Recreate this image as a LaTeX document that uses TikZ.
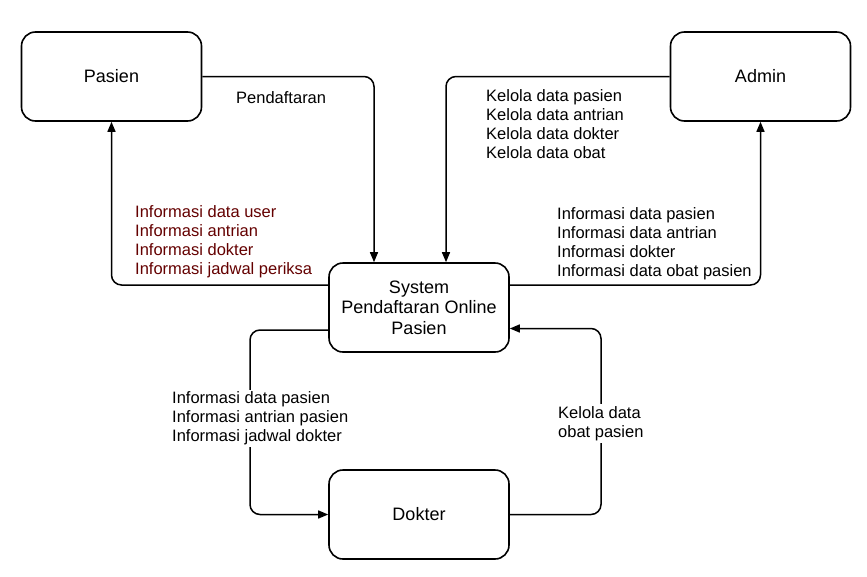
\documentclass[tikz,border=0pt]{standalone}
\usepackage{fontspec}
\setmainfont{Liberation Sans}
\usetikzlibrary{arrows.meta,calc}
\definecolor{lblred}{RGB}{100,0,0}
\begin{document}
\begin{tikzpicture}[x=1pt,y=-1pt,
  entity/.style={draw, line width=1.6pt, rounded corners=14pt, minimum width=180pt, minimum height=89pt,
     align=center, font=\fontsize{18}{20.5}\selectfont, inner sep=0pt},
  flow/.style={draw, line width=1.5pt, rounded corners=10pt, -{Triangle[length=10pt,width=8pt]}},
  lbl/.style={align=left, inner sep=0pt, anchor=west, font=\fontsize{16.5}{19}\selectfont},
  lblw/.style={lbl, fill=white, inner ysep=2pt}
]
\useasboundingbox (0,0) rectangle (867,576);
\node[entity] (pasien) at (111.5,76.5) {Pasien};
\node[entity] (admin) at (760.5,76.5) {Admin};
\node[entity] (sys) at (419,307.5) {System\\Pendaftaran Online\\Pasien};
\node[entity] (dokter) at (419,514.5) {Dokter};
\coordinate (bl) at (250,420);
\coordinate (br) at (601,420);

\draw[flow] (pasien.east) -| ([xshift=-45pt]sys.north);
\draw[flow] (admin.west) -| ([xshift=27pt]sys.north);
\draw[flow] ([yshift=22.5pt]sys.west) -| (pasien.south);
\draw[flow] ([yshift=22.5pt]sys.east) -| (admin.south);
\draw[flow] ([yshift=-22.5pt]sys.west) -| (bl) |- (dokter.west);
\draw[flow] (dokter.east) -| (br) |- ([yshift=-21pt]sys.east);

\node[lbl] (l1) at (236,98) {Pendaftaran};
\node[lbl] (l2) at (486,124) {Kelola data pasien\\Kelola data antrian\\Kelola data dokter\\Kelola data obat};
\node[lbl, text=lblred] (l3) at (135,241.5) {Informasi data user\\Informasi antrian\\Informasi dokter\\Informasi jadwal periksa};
\node[lbl] (l4) at (557,244) {Informasi data pasien\\Informasi data antrian\\Informasi dokter\\Informasi data obat pasien};
\node[lblw] (l5) at (172,418.5) {Informasi data pasien\\Informasi antrian pasien\\Informasi jadwal dokter};
\node[lblw] (l6) at (558,423.5) {Kelola data\\obat pasien};
\end{tikzpicture}
\end{document}
